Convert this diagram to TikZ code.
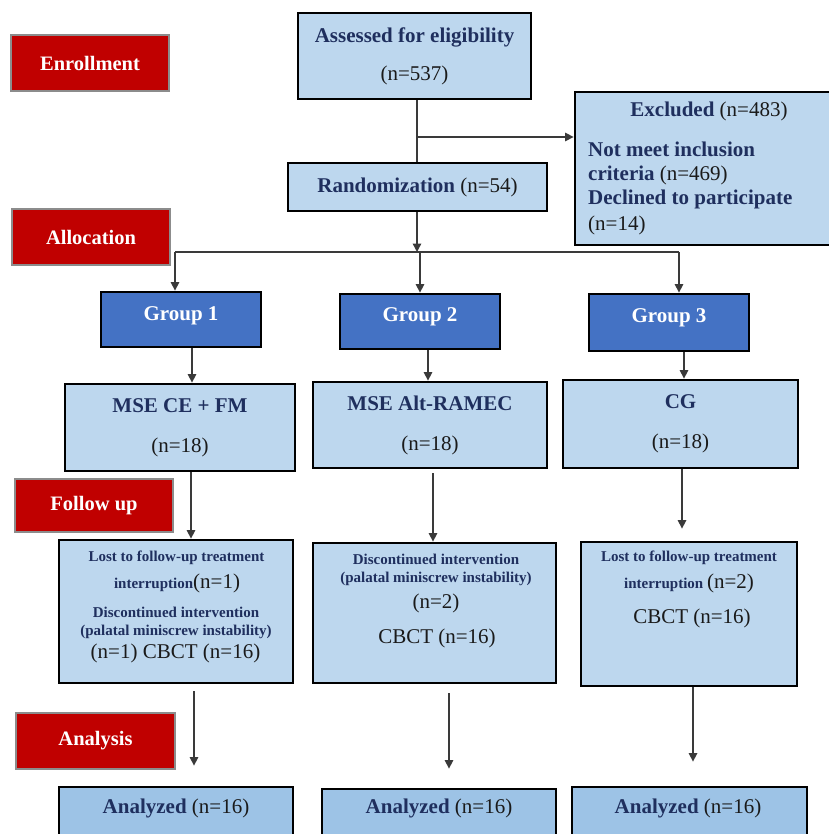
\documentclass[tikz,border=0pt]{standalone}
\usepackage{fontspec}
\setmainfont{Liberation Serif}
\usetikzlibrary{arrows.meta}
\definecolor{lb}{HTML}{BDD7EE}
\definecolor{ab}{HTML}{9DC3E6}
\definecolor{gb}{HTML}{4472C4}
\definecolor{rd}{HTML}{C00000}
\definecolor{navy}{HTML}{1F2F5E}
\definecolor{ink}{HTML}{1A1A1A}
\definecolor{connc}{HTML}{3A3A3A}
\definecolor{pgray}{HTML}{8C8C8C}
\newcommand{\fsL}{\fontsize{21}{24.5}\selectfont}
\newcommand{\fsS}{\fontsize{15}{18}\selectfont}
\newcommand{\nb}[1]{\textcolor{ink}{\mdseries #1}}
\begin{document}
\begin{tikzpicture}[x=1pt,y=-1pt,
  box/.style={draw=black, line width=2.8pt, fill=lb, inner sep=0pt, align=center, text=navy, font=\fsL\bfseries},
  ana/.style={box, fill=ab},
  grp/.style={draw=black, line width=2.8pt, fill=gb, inner sep=0pt, text=white, font=\fsL\bfseries},
  phase/.style={draw=pgray, line width=2.2pt, fill=rd, text=white, inner sep=0pt, font=\fontsize{20.5}{24}\selectfont\bfseries, minimum width=158pt, minimum height=56pt},
  txt/.style={inner sep=0pt, text=navy, font=\fsL\bfseries, anchor=base},
  gtxt/.style={txt, text=white},
  stxt/.style={txt, font=\fsS\bfseries},
  ltxt/.style={txt, anchor=base west},
  conn/.style={draw=connc, line width=1.4pt},
  arr/.style={conn, -{Triangle[length=8.5pt,width=8.5pt]}}]
\useasboundingbox (0,0) rectangle (828,834);

% phase labels
\node[phase] (enr) at (90,63) {Enrollment};
\node[phase] (alloc) at (91,237) {Allocation};
\node[phase, minimum height=53pt] (fup) at (94,505.5) {Follow up};
\node[phase, minimum width=159pt] (anl) at (95.5,741) {Analysis};

% top
\node[box, minimum width=233pt, minimum height=86pt] (assess) at (414.5,56) {Assessed for eligibility\\[13.5pt]\nb{(n=537)}};
\node[box, minimum width=259pt, minimum height=48pt] (rand) at (417.5,187) {Randomization \nb{(n=54)}};
\node[box, minimum width=260pt, minimum height=153pt] (excl) at (705,168.5) {};
\node[txt] (exclt) at (709,117) {Excluded \nb{(n=483)}};
\node[ltxt] (excl1) at (588,157) {Not meet inclusion};
\node[ltxt] (excl2) at (588,181) {criteria \nb{(n=469)}};
\node[ltxt] (excl3) at (588,205) {Declined to participate};
\node[ltxt] (excl4) at (588,230) {\nb{(n=14)}};

% groups
\node[grp, minimum width=160pt, minimum height=55pt] (g1) at (181,319.5) {};
\node[grp, minimum width=160pt, minimum height=55pt] (g2) at (420,321.5) {};
\node[grp, minimum width=160pt, minimum height=57pt] (g3) at (669,322.5) {};
\node[gtxt] (g1t) at (181,320) {Group 1};
\node[gtxt] (g2t) at (420,321) {Group 2};
\node[gtxt] (g3t) at (669,322) {Group 3};

\node[box, minimum width=230pt, minimum height=87pt] (m1) at (180,427.5) {MSE CE + FM\\[15.5pt]\nb{(n=18)}};
\node[box, minimum width=234pt, minimum height=86pt] (m2) at (430,425) {MSE Alt-RAMEC\\[15.5pt]\nb{(n=18)}};
\node[box, minimum width=235pt, minimum height=88pt] (cg) at (680.5,424) {CG\\[15.5pt]\nb{(n=18)}};

% follow up
\node[box, minimum width=234pt, minimum height=143pt] (f1) at (176,611.5) {};
\node[box, minimum width=243pt, minimum height=140pt] (f2) at (434.5,613) {};
\node[box, minimum width=216pt, minimum height=144pt] (f3) at (689,614) {};

\node[stxt] (f1a) at (176.5,561) {Lost to follow-up treatment};
\node[stxt] (f1b) at (177,588) {interruption\nb{\fsL(n=1)}};
\node[stxt] (f1c) at (176,617) {Discontinued intervention};
\node[stxt] (f1d) at (176,635) {(palatal miniscrew instability)};
\node[txt] (f1e) at (175.5,658) {\nb{(n=1) CBCT (n=16)}};

\node[stxt] (f2a) at (436,564) {Discontinued intervention};
\node[stxt] (f2b) at (436,582) {(palatal miniscrew instability)};
\node[txt] (f2c) at (436,608) {\nb{(n=2)}};
\node[txt] (f2d) at (437,643) {\nb{CBCT (n=16)}};

\node[stxt] (f3a) at (689,561) {Lost to follow-up treatment};
\node[stxt] (f3b) at (689,588) {interruption \nb{\fsL(n=2)}};
\node[txt] (f3c) at (692,623) {\nb{CBCT (n=16)}};

% analyzed
\node[ana, minimum width=234pt, minimum height=63pt] (a1) at (176,818.5) {};
\node[ana, minimum width=234pt, minimum height=63pt] (a2) at (439,820.5) {};
\node[ana, minimum width=235pt, minimum height=63pt] (a3) at (689.5,818.5) {};
\node[txt] (a1t) at (176,813) {Analyzed \nb{(n=16)}};
\node[txt] (a2t) at (439,813) {Analyzed \nb{(n=16)}};
\node[txt] (a3t) at (688,813) {Analyzed \nb{(n=16)}};

% connectors
\coordinate (br) at (417,137);
\coordinate (busL) at (175,252);
\coordinate (busR) at (679,252);
\draw[conn] (assess.south -| br) -- (rand.north -| br);
\draw[arr] (br) -- (br -| excl.west);
\draw[arr] (rand.south -| br) -- (br |- busL);
\draw[conn] (busL) -- (busR);
\draw[arr] (busL) -- (busL |- g1.north);
\draw[arr] (g2.north |- busL) -- (g2.north);
\draw[arr] (busR) -- (busR |- g3.north);

\draw[arr] ([xshift=11pt]g1.south) -- ([xshift=11pt]g1.south |- m1.north);
\draw[arr] ([xshift=8pt]g2.south) -- ([xshift=8pt]g2.south |- m2.north);
\draw[arr] ([xshift=15pt]g3.south) -- ([xshift=15pt]g3.south |- cg.north);

\draw[arr] ([xshift=11pt]m1.south) -- ([xshift=11pt]m1.south |- f1.north);
\draw[arr, shorten <=4pt] ([xshift=3pt]m2.south) -- ([xshift=3pt]m2.south |- f2.north);
\draw[arr, shorten >=12pt] ([xshift=1.5pt]cg.south) -- ([xshift=1.5pt]cg.south |- f3.north);

\draw[arr, shorten <=7pt, shorten >=20pt] ([xshift=18pt]f1.south) -- ([xshift=18pt]f1.south |- a1.north);
\draw[arr, shorten <=9pt, shorten >=19pt] ([xshift=14.5pt]f2.south) -- ([xshift=14.5pt]f2.south |- a2.north);
\draw[arr, shorten >=24pt] ([xshift=4pt]f3.south) -- ([xshift=4pt]f3.south |- a3.north);
\end{tikzpicture}
\end{document}
